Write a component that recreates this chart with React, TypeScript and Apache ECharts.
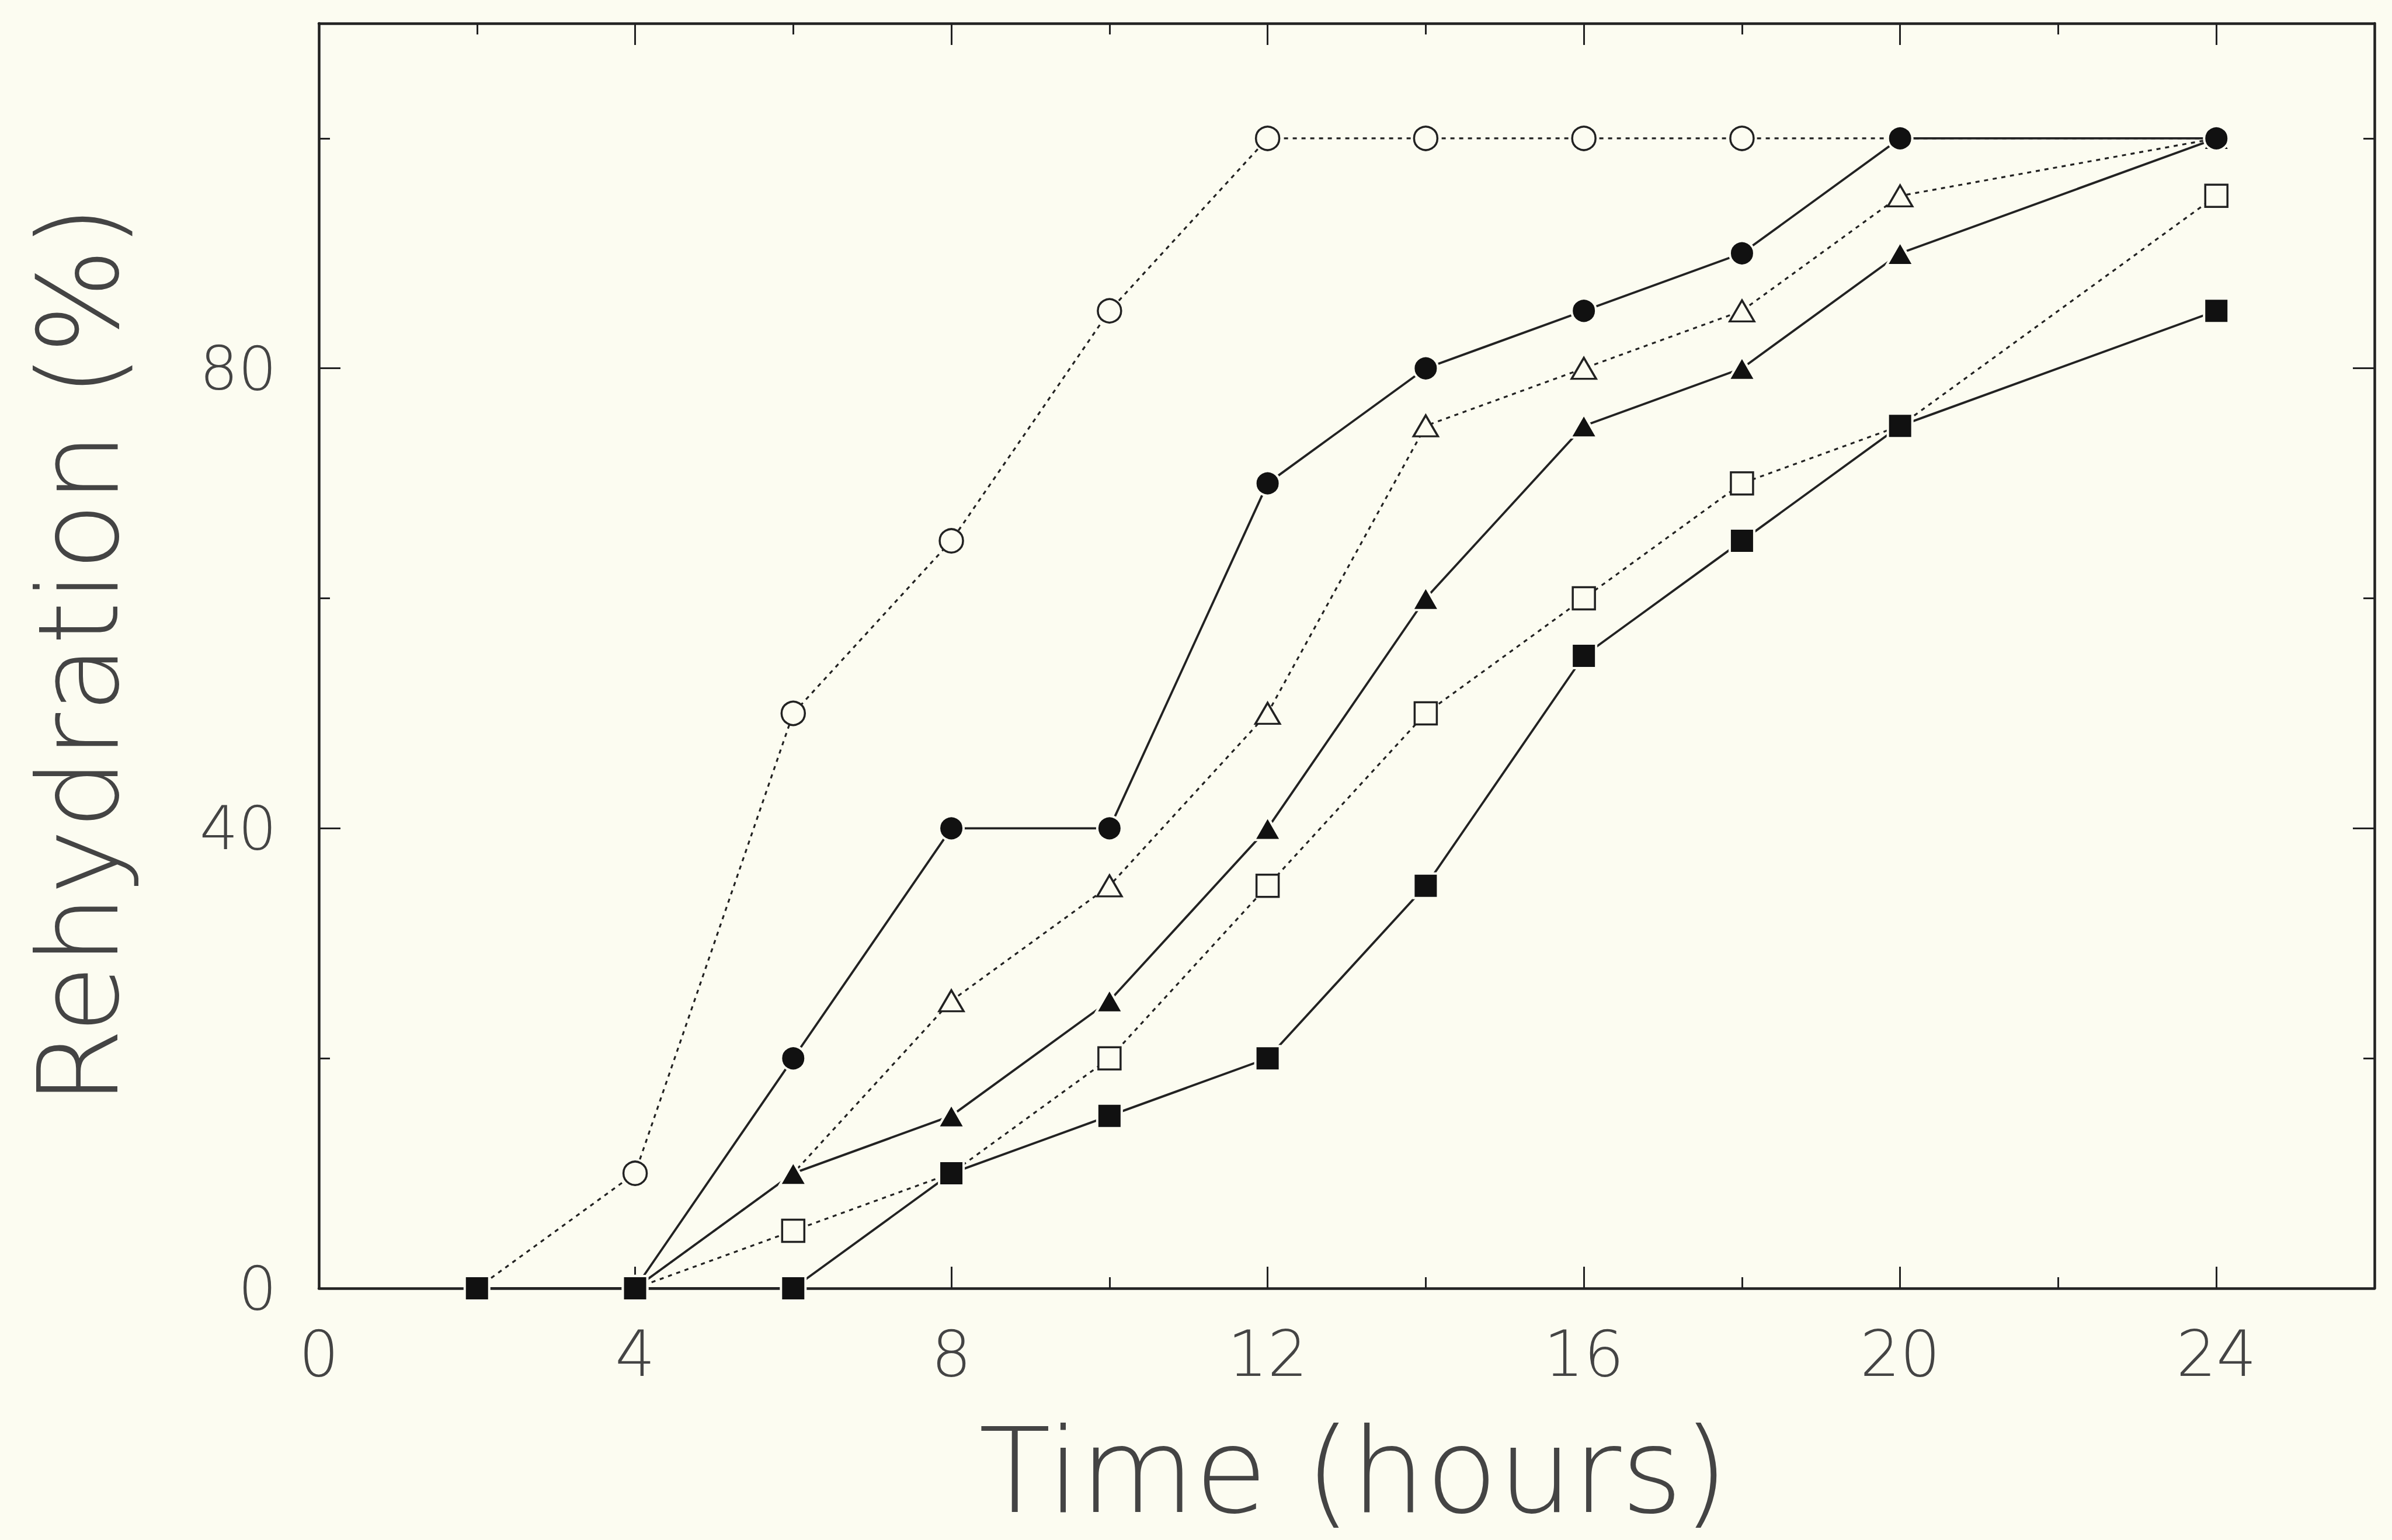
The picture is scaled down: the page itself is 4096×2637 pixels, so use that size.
import React, { useEffect, useRef } from 'react';
import * as echarts from 'echarts';

// ---- data ----
const hours = [2, 4, 6, 8, 10, 12, 14, 16, 18, 20, 24];
const openCircle = [0, 10, 50, 65, 85, 100, 100, 100, 100, 100, 100];
const openTriangle = [null, 0, 10, 25, 35, 50, 75, 80, 85, 95, 100];
const openSquare = [null, 0, 5, 10, 20, 35, 50, 60, 70, 75, 95];
const filledTriangle = [null, 0, 10, 15, 25, 40, 60, 75, 80, 90, 100];
const filledCircle = [null, 0, 20, 40, 40, 70, 80, 85, 90, 100, 100];
const filledSquare = [0, 0, 0, 10, 15, 20, 35, 55, 65, 75, 85];

const xTickLabels = [0, 4, 8, 12, 16, 20, 24];
const yTickLabels = [0, 40, 80];
const xTitle = 'Time (hours)';
const yTitle = 'Rehydration (%)';

const BG = '#fcfcf1';
const INK = '#222222';
const TXT = '#444444';
const FONT = '"DejaVu Sans", "Liberation Sans", sans-serif';

function pts(vals: (number | null)[]) {
  const out: number[][] = [];
  vals.forEach((v, i) => {
    if (v !== null) out.push([hours[i], v]);
  });
  return out;
}

function xAxisDef(position: string, interval: number, len: number, line: boolean, label: boolean) {
  return {
    type: 'value',
    position,
    min: 0,
    max: 26,
    interval,
    axisLine: { show: line, onZero: false, lineStyle: { color: INK, width: 4.5 } },
    axisTick: { show: true, inside: true, length: len, lineStyle: { color: INK, width: 3 } },
    axisLabel: {
      show: label,
      margin: 58,
      fontSize: 108,
      fontFamily: FONT,
      fontWeight: 200,
      color: TXT,
      formatter: (v: number) => (xTickLabels.includes(v) ? String(v) : ''),
    },
    splitLine: { show: false },
    silent: true,
  };
}

function yAxisDef(position: string, interval: number, len: number, line: boolean, label: boolean) {
  return {
    type: 'value',
    position,
    min: 0,
    max: 110,
    interval,
    axisLine: { show: line, onZero: false, lineStyle: { color: INK, width: 4.5 } },
    axisTick: { show: true, inside: true, length: len, lineStyle: { color: INK, width: 3 } },
    axisLabel: {
      show: label,
      margin: 72,
      fontSize: 104,
      fontFamily: FONT,
      fontWeight: 200,
      color: TXT,
      formatter: (v: number) => (yTickLabels.includes(v) ? String(v) : ''),
    },
    splitLine: { show: false },
    silent: true,
  };
}

function lineSeries(name: string, vals: (number | null)[], symbol: string, size: any, filled: boolean, dotted: boolean) {
  return {
    type: 'line',
    name,
    data: pts(vals),
    xAxisIndex: 0,
    yAxisIndex: 0,
    symbol,
    symbolSize: size,
    showSymbol: true,
    silent: true,
    lineStyle: {
      color: INK,
      width: dotted ? 3.2 : 3.8,
      type: dotted ? [7, 8] : 'solid',
    },
    itemStyle: filled
      ? { color: '#111', borderColor: BG, borderWidth: 4 }
      : { color: BG, borderColor: INK, borderWidth: 3.5 },
    emphasis: { disabled: true },
  };
}

export default function App() {
  const ref = useRef<HTMLDivElement>(null);
  useEffect(() => {
    if (!ref.current) return;
    const chart = echarts.init(ref.current, null, { renderer: 'svg' });
    chart.setOption({
      animation: false,
      backgroundColor: BG,
      grid: { left: 546, right: 30, top: 40, bottom: 431 },
      xAxis: [
        xAxisDef('bottom', 4, 37, true, true),
        xAxisDef('bottom', 2, 19, false, false),
        xAxisDef('top', 4, 37, true, false),
        xAxisDef('top', 2, 19, false, false),
      ],
      yAxis: [
        yAxisDef('left', 40, 37, true, true),
        yAxisDef('left', 20, 19, false, false),
        yAxisDef('right', 40, 37, true, false),
        yAxisDef('right', 20, 19, false, false),
      ],
      series: [
        lineSeries('open circle', openCircle, 'circle', 40, false, true),
        lineSeries('open triangle', openTriangle, 'triangle', [42, 36], false, true),
        lineSeries('open square', openSquare, 'rect', 38, false, true),
        lineSeries('filled triangle', filledTriangle, 'triangle', [46, 40], true, false),
        lineSeries('filled circle', filledCircle, 'circle', 42, true, false),
        lineSeries('filled square', filledSquare, 'rect', 42, true, false),
      ],
      graphic: [
        {
          type: 'text',
          x: 2318,
          y: 2519,
          silent: true,
          style: {
            text: xTitle,
            fontSize: 202,
            fontFamily: FONT,
            fontWeight: 200,
            fill: TXT,
            align: 'center',
            verticalAlign: 'middle',
          },
        },
        {
          type: 'text',
          x: 135,
          y: 1122,
          rotation: Math.PI / 2,
          silent: true,
          style: {
            text: yTitle,
            fontSize: 190,
            fontFamily: FONT,
            fontWeight: 200,
            fill: TXT,
            align: 'center',
            verticalAlign: 'middle',
          },
        },
      ],
    });
    return () => chart.dispose();
  }, []);
  return (
    <div
      ref={ref}
      style={{ position: 'absolute', left: 0, top: 0, width: '4096px', height: '2637px' }}
    />
  );
}
